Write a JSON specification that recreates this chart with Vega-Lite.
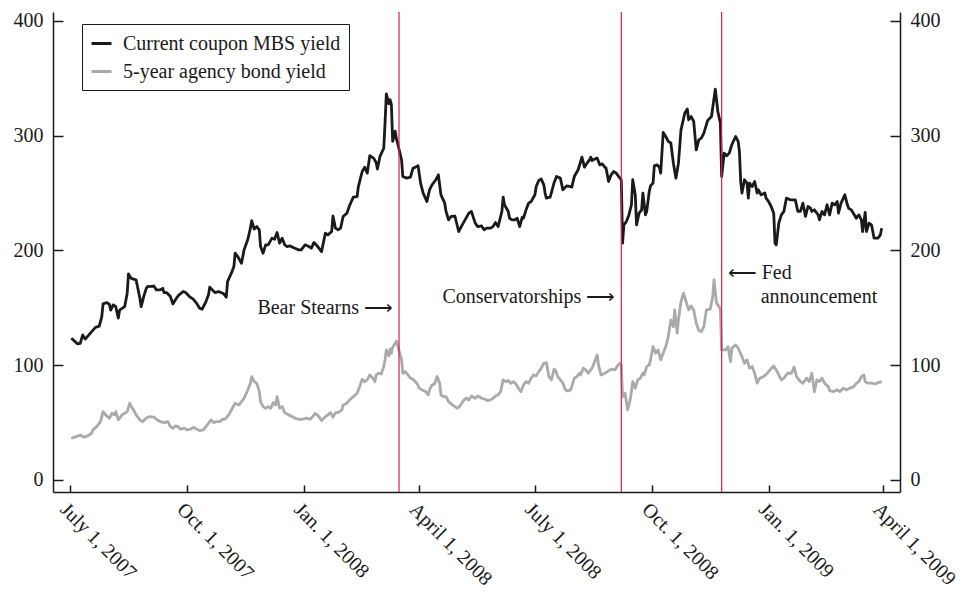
{
"$schema": "https://vega.github.io/schema/vega-lite/v6.json",
"width": 847,
"height": 480,
"autosize": "none",
"padding": {"left": 53, "top": 12, "right": 65, "bottom": 101},
"background": "white",
"config": {
  "font": "Liberation Serif",
  "view": {"stroke": null},
  "axis": {"domainColor": "#1a1a1a", "domainWidth": 1.5, "tickColor": "#1a1a1a", "tickWidth": 1.5, "labelFont": "Liberation Serif", "labelFontSize": 20, "labelColor": "#1a1a1a", "grid": false, "title": null},
  "legend": {"labelFont": "Liberation Serif", "labelFontSize": 20, "labelColor": "#1a1a1a"}
},
"datasets": {
"mbs": [
{"date":"2007-07-02","bp":123.5},{"date":"2007-07-07","bp":118.6},{"date":"2007-07-09","bp":119},{"date":"2007-07-11","bp":126.4},{"date":"2007-07-13","bp":122.7},{"date":"2007-07-18","bp":129.3},{"date":"2007-07-21","bp":133},{"date":"2007-07-24","bp":134},{"date":"2007-07-26","bp":142.4},{"date":"2007-07-27","bp":153.4},{"date":"2007-07-30","bp":154.6},{"date":"2007-08-01","bp":153},{"date":"2007-08-02","bp":148},{"date":"2007-08-04","bp":152.6},{"date":"2007-08-06","bp":151},{"date":"2007-08-08","bp":141},{"date":"2007-08-09","bp":148},{"date":"2007-08-13","bp":151},{"date":"2007-08-15","bp":162.8},{"date":"2007-08-16","bp":179.6},{"date":"2007-08-18","bp":175.8},{"date":"2007-08-20","bp":175},{"date":"2007-08-22","bp":174.4},{"date":"2007-08-25","bp":158.4},{"date":"2007-08-26","bp":151},{"date":"2007-08-28","bp":159.8},{"date":"2007-08-30","bp":167},{"date":"2007-08-31","bp":168.5},
{"date":"2007-09-05","bp":169},{"date":"2007-09-07","bp":165.6},{"date":"2007-09-10","bp":165.6},{"date":"2007-09-12","bp":167},{"date":"2007-09-13","bp":163.3},{"date":"2007-09-15","bp":163.3},{"date":"2007-09-18","bp":159.8},{"date":"2007-09-20","bp":153.4},{"date":"2007-09-22","bp":157},{"date":"2007-09-24","bp":160.4},{"date":"2007-09-28","bp":164.2},{"date":"2007-09-30","bp":163.3},
{"date":"2007-10-03","bp":159.8},{"date":"2007-10-06","bp":157.5},{"date":"2007-10-09","bp":153.4},{"date":"2007-10-11","bp":149.7},{"date":"2007-10-13","bp":148.8},{"date":"2007-10-16","bp":155.4},{"date":"2007-10-18","bp":161.3},{"date":"2007-10-19","bp":168},{"date":"2007-10-21","bp":165.6},{"date":"2007-10-23","bp":163.3},{"date":"2007-10-26","bp":164.2},{"date":"2007-10-30","bp":162.2},
{"date":"2007-11-01","bp":159.3},{"date":"2007-11-02","bp":172.9},{"date":"2007-11-05","bp":180.2},{"date":"2007-11-07","bp":186},{"date":"2007-11-08","bp":197.6},{"date":"2007-11-10","bp":194.7},{"date":"2007-11-13","bp":188.9},{"date":"2007-11-15","bp":200.5},{"date":"2007-11-18","bp":209.8},{"date":"2007-11-20","bp":219.4},{"date":"2007-11-21","bp":226},{"date":"2007-11-23","bp":218.6},{"date":"2007-11-25","bp":220.8},{"date":"2007-11-27","bp":218},{"date":"2007-11-28","bp":203.4},{"date":"2007-11-30","bp":197.6},
{"date":"2007-12-02","bp":204.9},{"date":"2007-12-04","bp":204.9},{"date":"2007-12-07","bp":210.7},{"date":"2007-12-09","bp":209.8},{"date":"2007-12-11","bp":215.6},{"date":"2007-12-13","bp":206.3},{"date":"2007-12-15","bp":210.7},{"date":"2007-12-17","bp":204.9},{"date":"2007-12-19","bp":203.4},{"date":"2007-12-21","bp":204},{"date":"2007-12-25","bp":202},{"date":"2007-12-28","bp":200.5},{"date":"2007-12-30","bp":200.5},
{"date":"2008-01-02","bp":204.9},{"date":"2008-01-05","bp":203.4},{"date":"2008-01-07","bp":202},{"date":"2008-01-09","bp":206.9},{"date":"2008-01-12","bp":203.4},{"date":"2008-01-15","bp":199},{"date":"2008-01-18","bp":215},{"date":"2008-01-20","bp":213.6},{"date":"2008-01-23","bp":216.5},{"date":"2008-01-24","bp":230},{"date":"2008-01-26","bp":219.4},{"date":"2008-01-28","bp":218},{"date":"2008-01-30","bp":219.4},
{"date":"2008-02-01","bp":229.6},{"date":"2008-02-04","bp":232.5},{"date":"2008-02-06","bp":238.9},{"date":"2008-02-09","bp":246.5},{"date":"2008-02-12","bp":247},{"date":"2008-02-13","bp":255.7},{"date":"2008-02-16","bp":268.8},{"date":"2008-02-18","bp":272.6},{"date":"2008-02-20","bp":267.4},{"date":"2008-02-22","bp":282.5},{"date":"2008-02-25","bp":280.5},{"date":"2008-02-27","bp":276.6},{"date":"2008-02-28","bp":270.9},
{"date":"2008-03-01","bp":281.9},{"date":"2008-03-04","bp":289.2},{"date":"2008-03-05","bp":311},{"date":"2008-03-06","bp":336.5},{"date":"2008-03-08","bp":327.8},{"date":"2008-03-09","bp":331.3},{"date":"2008-03-10","bp":327},{"date":"2008-03-11","bp":295},{"date":"2008-03-13","bp":304},{"date":"2008-03-14","bp":297},{"date":"2008-03-15","bp":293},{"date":"2008-03-18","bp":279},{"date":"2008-03-19","bp":264.4},{"date":"2008-03-22","bp":263},{"date":"2008-03-25","bp":263.9},{"date":"2008-03-27","bp":271.7},{"date":"2008-03-29","bp":272.6},{"date":"2008-03-31","bp":273.8},
{"date":"2008-04-02","bp":258.7},{"date":"2008-04-04","bp":250},{"date":"2008-04-07","bp":242.6},{"date":"2008-04-09","bp":252.8},{"date":"2008-04-11","bp":257.2},{"date":"2008-04-14","bp":261.6},{"date":"2008-04-16","bp":265.9},{"date":"2008-04-18","bp":248.5},{"date":"2008-04-21","bp":241.2},{"date":"2008-04-22","bp":234},{"date":"2008-04-24","bp":226.7},{"date":"2008-04-26","bp":229.6},{"date":"2008-04-29","bp":230},
{"date":"2008-05-02","bp":216.5},{"date":"2008-05-04","bp":220.8},{"date":"2008-05-07","bp":226.7},{"date":"2008-05-10","bp":232.5},{"date":"2008-05-12","bp":234},{"date":"2008-05-15","bp":223.8},{"date":"2008-05-17","bp":220.8},{"date":"2008-05-20","bp":221.4},{"date":"2008-05-22","bp":218},{"date":"2008-05-24","bp":219.4},{"date":"2008-05-27","bp":219.4},{"date":"2008-05-29","bp":220.8},{"date":"2008-05-31","bp":224.3},
{"date":"2008-06-02","bp":220.8},{"date":"2008-06-04","bp":229.6},{"date":"2008-06-05","bp":234},{"date":"2008-06-06","bp":246.5},{"date":"2008-06-07","bp":239.8},{"date":"2008-06-10","bp":234},{"date":"2008-06-11","bp":228.1},{"date":"2008-06-13","bp":226.7},{"date":"2008-06-15","bp":226.7},{"date":"2008-06-17","bp":228.1},{"date":"2008-06-19","bp":220.8},{"date":"2008-06-21","bp":229},{"date":"2008-06-22","bp":228.1},{"date":"2008-06-24","bp":235.4},{"date":"2008-06-26","bp":241.2},{"date":"2008-06-28","bp":242.6},
{"date":"2008-07-01","bp":248.5},{"date":"2008-07-02","bp":255.7},{"date":"2008-07-04","bp":261},{"date":"2008-07-06","bp":262.2},{"date":"2008-07-08","bp":257.2},{"date":"2008-07-09","bp":250},{"date":"2008-07-10","bp":245.6},{"date":"2008-07-13","bp":246.5},{"date":"2008-07-16","bp":258.7},{"date":"2008-07-18","bp":264.4},{"date":"2008-07-21","bp":263},{"date":"2008-07-23","bp":252.8},{"date":"2008-07-26","bp":256.3},{"date":"2008-07-29","bp":255.7},{"date":"2008-07-30","bp":255.2},
{"date":"2008-08-01","bp":264.4},{"date":"2008-08-04","bp":270.3},{"date":"2008-08-06","bp":277.5},{"date":"2008-08-07","bp":281.3},{"date":"2008-08-09","bp":272.6},{"date":"2008-08-11","bp":276.1},{"date":"2008-08-13","bp":279},{"date":"2008-08-14","bp":281.3},{"date":"2008-08-15","bp":278.4},{"date":"2008-08-17","bp":279.6},{"date":"2008-08-19","bp":280.5},{"date":"2008-08-21","bp":274.6},{"date":"2008-08-23","bp":275.5},{"date":"2008-08-25","bp":272.6},{"date":"2008-08-26","bp":271.7},{"date":"2008-08-28","bp":260.1},{"date":"2008-08-30","bp":265.9},
{"date":"2008-09-01","bp":268.8},{"date":"2008-09-03","bp":267.4},{"date":"2008-09-05","bp":264.4},{"date":"2008-09-07","bp":261.6},{"date":"2008-09-08","bp":206.3},{"date":"2008-09-09","bp":222.3},{"date":"2008-09-11","bp":225.2},{"date":"2008-09-13","bp":231},{"date":"2008-09-15","bp":239.8},{"date":"2008-09-16","bp":261.6},{"date":"2008-09-18","bp":248.5},{"date":"2008-09-19","bp":222.3},{"date":"2008-09-21","bp":232.5},{"date":"2008-09-23","bp":235.4},{"date":"2008-09-24","bp":250},{"date":"2008-09-26","bp":231},{"date":"2008-09-27","bp":234},{"date":"2008-09-29","bp":251.4},{"date":"2008-09-30","bp":256.3},
{"date":"2008-10-02","bp":258.7},{"date":"2008-10-03","bp":273.8},{"date":"2008-10-05","bp":274.6},{"date":"2008-10-07","bp":272.6},{"date":"2008-10-08","bp":267.4},{"date":"2008-10-10","bp":302.8},{"date":"2008-10-12","bp":299.3},{"date":"2008-10-14","bp":295},{"date":"2008-10-16","bp":293.6},{"date":"2008-10-18","bp":276.1},{"date":"2008-10-20","bp":263},{"date":"2008-10-22","bp":276.1},{"date":"2008-10-24","bp":305.1},{"date":"2008-10-27","bp":319.7},{"date":"2008-10-29","bp":323.2},{"date":"2008-10-30","bp":313.9},
{"date":"2008-11-01","bp":316.7},{"date":"2008-11-03","bp":312.4},{"date":"2008-11-05","bp":287.7},{"date":"2008-11-07","bp":296.4},{"date":"2008-11-09","bp":297.9},{"date":"2008-11-11","bp":302.3},{"date":"2008-11-14","bp":313.3},{"date":"2008-11-17","bp":316.7},{"date":"2008-11-20","bp":340.6},{"date":"2008-11-22","bp":321.1},{"date":"2008-11-24","bp":311},{"date":"2008-11-25","bp":264.4},{"date":"2008-11-27","bp":284.8},{"date":"2008-11-29","bp":282.5},
{"date":"2008-12-01","bp":284.8},{"date":"2008-12-03","bp":292.1},{"date":"2008-12-06","bp":299.3},{"date":"2008-12-08","bp":295},{"date":"2008-12-09","bp":286.2},{"date":"2008-12-10","bp":260.1},{"date":"2008-12-11","bp":250},{"date":"2008-12-13","bp":261.6},{"date":"2008-12-15","bp":258.7},{"date":"2008-12-16","bp":245.6},{"date":"2008-12-17","bp":258.7},{"date":"2008-12-19","bp":255.7},{"date":"2008-12-21","bp":260.1},{"date":"2008-12-23","bp":250},{"date":"2008-12-24","bp":252.8},{"date":"2008-12-26","bp":248.5},{"date":"2008-12-29","bp":250},{"date":"2008-12-30","bp":245.6},
{"date":"2009-01-01","bp":242.6},{"date":"2009-01-03","bp":238.3},{"date":"2009-01-05","bp":232.5},{"date":"2009-01-06","bp":206.3},{"date":"2009-01-07","bp":204.9},{"date":"2009-01-09","bp":223.8},{"date":"2009-01-11","bp":231},{"date":"2009-01-13","bp":234},{"date":"2009-01-15","bp":245.6},{"date":"2009-01-18","bp":244.1},{"date":"2009-01-20","bp":244.1},{"date":"2009-01-22","bp":244.1},{"date":"2009-01-24","bp":234},{"date":"2009-01-26","bp":234},{"date":"2009-01-28","bp":241.2},{"date":"2009-01-30","bp":229.6},
{"date":"2009-02-01","bp":238.3},{"date":"2009-02-03","bp":236.8},{"date":"2009-02-04","bp":234},{"date":"2009-02-06","bp":235.4},{"date":"2009-02-09","bp":231},{"date":"2009-02-10","bp":226.7},{"date":"2009-02-12","bp":234},{"date":"2009-02-14","bp":231},{"date":"2009-02-16","bp":239.8},{"date":"2009-02-18","bp":231},{"date":"2009-02-20","bp":241.2},{"date":"2009-02-22","bp":239.8},{"date":"2009-02-24","bp":242.6},{"date":"2009-02-25","bp":232.5},{"date":"2009-02-27","bp":241.2},
{"date":"2009-03-02","bp":248.5},{"date":"2009-03-04","bp":239.8},{"date":"2009-03-05","bp":236.8},{"date":"2009-03-07","bp":235.4},{"date":"2009-03-10","bp":230},{"date":"2009-03-11","bp":228.1},{"date":"2009-03-13","bp":231},{"date":"2009-03-15","bp":226.7},{"date":"2009-03-16","bp":216.5},{"date":"2009-03-18","bp":233.2},{"date":"2009-03-19","bp":216.5},{"date":"2009-03-21","bp":223.8},{"date":"2009-03-23","bp":222.3},{"date":"2009-03-25","bp":210.7},{"date":"2009-03-28","bp":210.7},{"date":"2009-03-30","bp":213.6},{"date":"2009-03-31","bp":219.4}
],
"agency": [
{"date":"2007-07-02","bp":36.3},{"date":"2007-07-06","bp":37.8},{"date":"2007-07-09","bp":39.2},{"date":"2007-07-12","bp":37.2},{"date":"2007-07-15","bp":38.4},{"date":"2007-07-18","bp":40.7},{"date":"2007-07-19","bp":43.6},{"date":"2007-07-22","bp":46.5},{"date":"2007-07-23","bp":48},{"date":"2007-07-25","bp":50.8},{"date":"2007-07-27","bp":59.5},{"date":"2007-07-29","bp":56.7},
{"date":"2007-08-01","bp":53.8},{"date":"2007-08-03","bp":58.1},{"date":"2007-08-05","bp":56.7},{"date":"2007-08-06","bp":59.5},{"date":"2007-08-08","bp":52.3},{"date":"2007-08-11","bp":56.7},{"date":"2007-08-13","bp":58.1},{"date":"2007-08-15","bp":59.5},{"date":"2007-08-17","bp":66.9},{"date":"2007-08-19","bp":62.5},{"date":"2007-08-20","bp":61},{"date":"2007-08-22","bp":56.7},{"date":"2007-08-25","bp":52.3},{"date":"2007-08-27","bp":50.8},{"date":"2007-08-30","bp":53.8},
{"date":"2007-09-01","bp":55.2},{"date":"2007-09-05","bp":54.7},{"date":"2007-09-07","bp":52.9},{"date":"2007-09-10","bp":50.8},{"date":"2007-09-13","bp":50},{"date":"2007-09-16","bp":50.8},{"date":"2007-09-18","bp":46.5},{"date":"2007-09-20","bp":45.1},{"date":"2007-09-22","bp":47.1},{"date":"2007-09-24","bp":46.5},{"date":"2007-09-26","bp":44.2},{"date":"2007-09-29","bp":45.1},
{"date":"2007-10-01","bp":43.6},{"date":"2007-10-04","bp":44.2},{"date":"2007-10-06","bp":45.9},{"date":"2007-10-09","bp":44.2},{"date":"2007-10-11","bp":43},{"date":"2007-10-14","bp":43.6},{"date":"2007-10-16","bp":46.5},{"date":"2007-10-18","bp":49.4},{"date":"2007-10-20","bp":52.3},{"date":"2007-10-22","bp":50},{"date":"2007-10-24","bp":50.8},{"date":"2007-10-27","bp":50.8},{"date":"2007-10-29","bp":52.9},{"date":"2007-10-31","bp":53},
{"date":"2007-11-03","bp":56.7},{"date":"2007-11-05","bp":61},{"date":"2007-11-08","bp":66.9},{"date":"2007-11-11","bp":65.4},{"date":"2007-11-13","bp":68.3},{"date":"2007-11-15","bp":71.2},{"date":"2007-11-18","bp":78.5},{"date":"2007-11-20","bp":84.3},{"date":"2007-11-21","bp":90.1},{"date":"2007-11-23","bp":85.7},{"date":"2007-11-25","bp":84.3},{"date":"2007-11-27","bp":77},{"date":"2007-11-28","bp":68.3},{"date":"2007-11-30","bp":63.9},
{"date":"2007-12-02","bp":62.5},{"date":"2007-12-04","bp":63.9},{"date":"2007-12-06","bp":62.5},{"date":"2007-12-08","bp":67.4},{"date":"2007-12-10","bp":65.4},{"date":"2007-12-11","bp":72.6},{"date":"2007-12-13","bp":62.5},{"date":"2007-12-15","bp":63.9},{"date":"2007-12-17","bp":58.7},{"date":"2007-12-20","bp":56.7},{"date":"2007-12-23","bp":55.2},{"date":"2007-12-25","bp":53.8},{"date":"2007-12-28","bp":52.9},{"date":"2007-12-31","bp":52.9},
{"date":"2008-01-03","bp":53.8},{"date":"2008-01-06","bp":52.9},{"date":"2008-01-08","bp":55.2},{"date":"2008-01-10","bp":58.1},{"date":"2008-01-13","bp":55.2},{"date":"2008-01-15","bp":51.7},{"date":"2008-01-18","bp":55.2},{"date":"2008-01-20","bp":56.7},{"date":"2008-01-22","bp":58.7},{"date":"2008-01-24","bp":54.7},{"date":"2008-01-26","bp":58.7},{"date":"2008-01-28","bp":58.7},{"date":"2008-01-31","bp":61},
{"date":"2008-02-01","bp":65.4},{"date":"2008-02-04","bp":66.9},{"date":"2008-02-06","bp":69.7},{"date":"2008-02-09","bp":72.6},{"date":"2008-02-12","bp":75.6},{"date":"2008-02-14","bp":81.3},{"date":"2008-02-16","bp":87.8},{"date":"2008-02-18","bp":85.7},{"date":"2008-02-20","bp":87.2},{"date":"2008-02-22","bp":91.5},{"date":"2008-02-24","bp":89.2},{"date":"2008-02-26","bp":85.7},{"date":"2008-02-27","bp":91.5},{"date":"2008-02-29","bp":93},
{"date":"2008-03-02","bp":92.4},{"date":"2008-03-04","bp":98.8},{"date":"2008-03-05","bp":104.6},{"date":"2008-03-06","bp":113.3},{"date":"2008-03-08","bp":108.1},{"date":"2008-03-09","bp":114},{"date":"2008-03-10","bp":110.4},{"date":"2008-03-11","bp":115.7},{"date":"2008-03-13","bp":119.2},{"date":"2008-03-14","bp":121},{"date":"2008-03-15","bp":117},{"date":"2008-03-18","bp":104.6},{"date":"2008-03-19","bp":93},{"date":"2008-03-21","bp":94.4},{"date":"2008-03-23","bp":91.5},{"date":"2008-03-25","bp":88.7},{"date":"2008-03-27","bp":87.8},{"date":"2008-03-30","bp":84.3},
{"date":"2008-04-01","bp":80},{"date":"2008-04-03","bp":78.5},{"date":"2008-04-06","bp":77},{"date":"2008-04-08","bp":74.1},{"date":"2008-04-09","bp":78.5},{"date":"2008-04-11","bp":82.8},{"date":"2008-04-13","bp":83.7},{"date":"2008-04-15","bp":90.1},{"date":"2008-04-17","bp":84.3},{"date":"2008-04-18","bp":74.1},{"date":"2008-04-20","bp":72.6},{"date":"2008-04-22","bp":72.6},{"date":"2008-04-24","bp":68.3},{"date":"2008-04-27","bp":65.4},{"date":"2008-04-29","bp":63.9},
{"date":"2008-05-01","bp":62.5},{"date":"2008-05-03","bp":64.5},{"date":"2008-05-06","bp":69.7},{"date":"2008-05-08","bp":71.2},{"date":"2008-05-10","bp":69.7},{"date":"2008-05-12","bp":73.2},{"date":"2008-05-15","bp":71.2},{"date":"2008-05-17","bp":73.2},{"date":"2008-05-20","bp":71.2},{"date":"2008-05-23","bp":70.3},{"date":"2008-05-25","bp":69.1},{"date":"2008-05-28","bp":70.3},{"date":"2008-05-31","bp":73.2},
{"date":"2008-06-02","bp":74.1},{"date":"2008-06-04","bp":77},{"date":"2008-06-06","bp":87.2},{"date":"2008-06-08","bp":85.7},{"date":"2008-06-10","bp":86.6},{"date":"2008-06-12","bp":84.3},{"date":"2008-06-14","bp":85.7},{"date":"2008-06-16","bp":83.7},{"date":"2008-06-18","bp":80},{"date":"2008-06-20","bp":77},{"date":"2008-06-22","bp":82.8},{"date":"2008-06-24","bp":85.7},{"date":"2008-06-26","bp":84.3},{"date":"2008-06-28","bp":88.7},{"date":"2008-06-30","bp":91.5},
{"date":"2008-07-02","bp":90.7},{"date":"2008-07-04","bp":94.4},{"date":"2008-07-06","bp":97.4},{"date":"2008-07-08","bp":101.7},{"date":"2008-07-10","bp":102.3},{"date":"2008-07-12","bp":90.1},{"date":"2008-07-14","bp":87.2},{"date":"2008-07-16","bp":96.5},{"date":"2008-07-17","bp":95.9},{"date":"2008-07-19","bp":90.1},{"date":"2008-07-21","bp":87.2},{"date":"2008-07-23","bp":84.3},{"date":"2008-07-25","bp":78.5},{"date":"2008-07-27","bp":77.5},{"date":"2008-07-29","bp":78.5},{"date":"2008-07-30","bp":81.3},
{"date":"2008-08-01","bp":88.7},{"date":"2008-08-03","bp":90.1},{"date":"2008-08-05","bp":93},{"date":"2008-08-06","bp":91.5},{"date":"2008-08-08","bp":97.4},{"date":"2008-08-10","bp":95.9},{"date":"2008-08-12","bp":93},{"date":"2008-08-15","bp":97.4},{"date":"2008-08-17","bp":103.1},{"date":"2008-08-19","bp":109},{"date":"2008-08-20","bp":100.3},{"date":"2008-08-22","bp":91.5},{"date":"2008-08-25","bp":93},{"date":"2008-08-27","bp":94.4},{"date":"2008-08-30","bp":96.5},
{"date":"2008-09-02","bp":95.9},{"date":"2008-09-04","bp":99.4},{"date":"2008-09-06","bp":101.7},{"date":"2008-09-07","bp":100.5},{"date":"2008-09-08","bp":72.6},{"date":"2008-09-10","bp":75.6},{"date":"2008-09-12","bp":61},{"date":"2008-09-14","bp":69.7},{"date":"2008-09-16","bp":85.7},{"date":"2008-09-18","bp":80},{"date":"2008-09-20","bp":87.2},{"date":"2008-09-22","bp":88.7},{"date":"2008-09-24","bp":93},{"date":"2008-09-25","bp":91.5},{"date":"2008-09-27","bp":98.8},{"date":"2008-09-29","bp":100.3},{"date":"2008-09-30","bp":104.6},
{"date":"2008-10-02","bp":116.2},{"date":"2008-10-04","bp":110.4},{"date":"2008-10-06","bp":113.3},{"date":"2008-10-08","bp":104.6},{"date":"2008-10-10","bp":110.4},{"date":"2008-10-12","bp":116.2},{"date":"2008-10-14","bp":124.9},{"date":"2008-10-16","bp":139.5},{"date":"2008-10-18","bp":133.6},{"date":"2008-10-19","bp":148.2},{"date":"2008-10-21","bp":127.9},{"date":"2008-10-22","bp":139.5},{"date":"2008-10-24","bp":155.4},{"date":"2008-10-26","bp":162.8},{"date":"2008-10-28","bp":155.4},{"date":"2008-10-30","bp":148.2},
{"date":"2008-11-01","bp":151.7},{"date":"2008-11-03","bp":148.2},{"date":"2008-11-05","bp":136.6},{"date":"2008-11-07","bp":130.2},{"date":"2008-11-09","bp":129.3},{"date":"2008-11-11","bp":133.6},{"date":"2008-11-13","bp":148.2},{"date":"2008-11-16","bp":148.8},{"date":"2008-11-18","bp":159.8},{"date":"2008-11-19","bp":174.4},{"date":"2008-11-21","bp":154.1},{"date":"2008-11-23","bp":151},{"date":"2008-11-24","bp":148.2},{"date":"2008-11-25","bp":113.3},{"date":"2008-11-28","bp":113.3},{"date":"2008-11-30","bp":116.2},
{"date":"2008-12-02","bp":103.1},{"date":"2008-12-03","bp":114.8},{"date":"2008-12-06","bp":117.7},{"date":"2008-12-08","bp":114.8},{"date":"2008-12-11","bp":107.5},{"date":"2008-12-13","bp":101.7},{"date":"2008-12-15","bp":104.6},{"date":"2008-12-17","bp":97.4},{"date":"2008-12-19","bp":98.8},{"date":"2008-12-21","bp":93},{"date":"2008-12-23","bp":84.3},{"date":"2008-12-25","bp":88.7},{"date":"2008-12-28","bp":90.1},{"date":"2008-12-31","bp":93},
{"date":"2009-01-02","bp":95.9},{"date":"2009-01-05","bp":99.4},{"date":"2009-01-07","bp":95.9},{"date":"2009-01-09","bp":91.5},{"date":"2009-01-11","bp":87.2},{"date":"2009-01-13","bp":88.7},{"date":"2009-01-16","bp":93},{"date":"2009-01-19","bp":93},{"date":"2009-01-21","bp":98.3},{"date":"2009-01-23","bp":90.1},{"date":"2009-01-26","bp":85.7},{"date":"2009-01-28","bp":84.3},{"date":"2009-01-31","bp":88.7},
{"date":"2009-02-02","bp":85.7},{"date":"2009-02-04","bp":93},{"date":"2009-02-06","bp":77},{"date":"2009-02-08","bp":87.2},{"date":"2009-02-10","bp":85.7},{"date":"2009-02-12","bp":88.7},{"date":"2009-02-14","bp":84.3},{"date":"2009-02-17","bp":81.3},{"date":"2009-02-18","bp":77.9},{"date":"2009-02-21","bp":77},{"date":"2009-02-24","bp":78.5},{"date":"2009-02-26","bp":77},
{"date":"2009-03-01","bp":80},{"date":"2009-03-03","bp":78.5},{"date":"2009-03-06","bp":80},{"date":"2009-03-09","bp":81.3},{"date":"2009-03-11","bp":84.3},{"date":"2009-03-13","bp":85.7},{"date":"2009-03-15","bp":90.1},{"date":"2009-03-17","bp":91.5},{"date":"2009-03-18","bp":85.7},{"date":"2009-03-20","bp":84.3},{"date":"2009-03-23","bp":84.3},{"date":"2009-03-26","bp":83.7},{"date":"2009-03-28","bp":84.8},{"date":"2009-03-31","bp":85.7}
]
},
"layer": [
  {
    "data": {"name": "agency"},
    "mark": {"type": "line", "strokeWidth": 2.8, "strokeJoin": "round"},
    "encoding": {
      "x": {"field": "date", "type": "temporal",
        "scale": {"type": "utc", "domain": [{"year": 2007, "month": 6, "date": 17, "hours": 14, "utc": true}, {"year": 2009, "month": 4, "date": 14, "hours": 10, "utc": true}]},
        "axis": {"values": [
          {"year": 2007, "month": 7, "date": 1, "utc": true}, {"year": 2007, "month": 10, "date": 1, "utc": true},
          {"year": 2008, "month": 1, "date": 1, "utc": true}, {"year": 2008, "month": 4, "date": 1, "utc": true},
          {"year": 2008, "month": 7, "date": 1, "utc": true}, {"year": 2008, "month": 10, "date": 1, "utc": true},
          {"year": 2009, "month": 1, "date": 1, "utc": true}, {"year": 2009, "month": 4, "date": 1, "utc": true}],
          "labelExpr": "(utcmonth(datum.value)==6?'July':utcmonth(datum.value)==9?'Oct.':utcmonth(datum.value)==0?'Jan.':'April')+' 1, '+utcyear(datum.value)",
          "tickSize": -7, "labelAngle": 45, "labelAlign": "left", "labelBaseline": "top", "labelPadding": 14, "labelFontSize": 20,
          "labelFlush": false, "labelOverlap": false, "labelBound": false}},
      "y": {"field": "bp", "type": "quantitative", "scale": {"domain": [-10.5, 407.8], "nice": false, "zero": false},
        "axis": {"orient": "left", "values": [0, 100, 200, 300, 400], "tickSize": -10, "labelPadding": 20}},
      "color": {"datum": "5-year agency bond yield", "type": "nominal",
        "scale": {"domain": ["Current coupon MBS yield", "5-year agency bond yield"], "range": ["#1a1a1a", "#aaaaaa"]},
        "legend": {"orient": "none", "legendX": 29, "legendY": 12, "title": null, "symbolType": "stroke", "symbolSize": 400, "symbolStrokeWidth": 3,
          "labelLimit": 400, "strokeColor": "#1a1a1a", "fillColor": "white", "padding": 8, "rowPadding": 6, "labelOffset": 10}}
    }
  },
  {
    "data": {"name": "mbs"},
    "mark": {"type": "line", "strokeWidth": 2.8, "strokeJoin": "round"},
    "encoding": {
      "x": {"field": "date", "type": "temporal", "scale": {"type": "utc"}},
      "y": {"field": "bp", "type": "quantitative", "axis": null},
      "color": {"datum": "Current coupon MBS yield", "type": "nominal"}
    }
  },
  {
    "data": {"values": [{"date": "2008-03-16", "event": "Bear Stearns"}, {"date": "2008-09-07", "event": "Conservatorships"}, {"date": "2008-11-25", "event": "Fed announcement"}]},
    "mark": {"type": "rule", "color": "#d6214b", "strokeWidth": 1.2},
    "encoding": {"x": {"field": "date", "type": "temporal", "scale": {"type": "utc"}}}
  },
  {
    "data": {"values": [{"date": "2008-03-16", "bp": 150, "label": "Bear Stearns ⟶"}, {"date": "2008-09-07", "bp": 159.5, "label": "Conservatorships ⟶"}]},
    "mark": {"type": "text", "align": "right", "baseline": "middle", "dx": -6, "fontSize": 20, "font": "Liberation Serif", "color": "#1a1a1a"},
    "encoding": {
      "x": {"field": "date", "type": "temporal", "scale": {"type": "utc"}},
      "y": {"field": "bp", "type": "quantitative", "axis": {"orient": "right", "values": [0, 100, 200, 300, 400], "tickSize": -10, "labelPadding": 20}},
      "text": {"field": "label"}
    }
  },
  {
    "data": {"values": [{"date": "2008-11-25", "bp": 180.4, "label": "⟵ Fed"}]},
    "mark": {"type": "text", "align": "left", "baseline": "middle", "dx": 6, "fontSize": 20, "font": "Liberation Serif", "color": "#1a1a1a"},
    "encoding": {
      "x": {"field": "date", "type": "temporal", "scale": {"type": "utc"}},
      "y": {"field": "bp", "type": "quantitative", "axis": null},
      "text": {"field": "label"}
    }
  },
  {
    "data": {"values": [{"date": "2008-11-25", "bp": 159.5, "label": "announcement"}]},
    "mark": {"type": "text", "align": "left", "baseline": "middle", "dx": 39, "fontSize": 20, "font": "Liberation Serif", "color": "#1a1a1a"},
    "encoding": {
      "x": {"field": "date", "type": "temporal", "scale": {"type": "utc"}},
      "y": {"field": "bp", "type": "quantitative", "axis": null},
      "text": {"field": "label"}
    }
  }
],
"resolve": {"axis": {"y": "independent"}}
}
